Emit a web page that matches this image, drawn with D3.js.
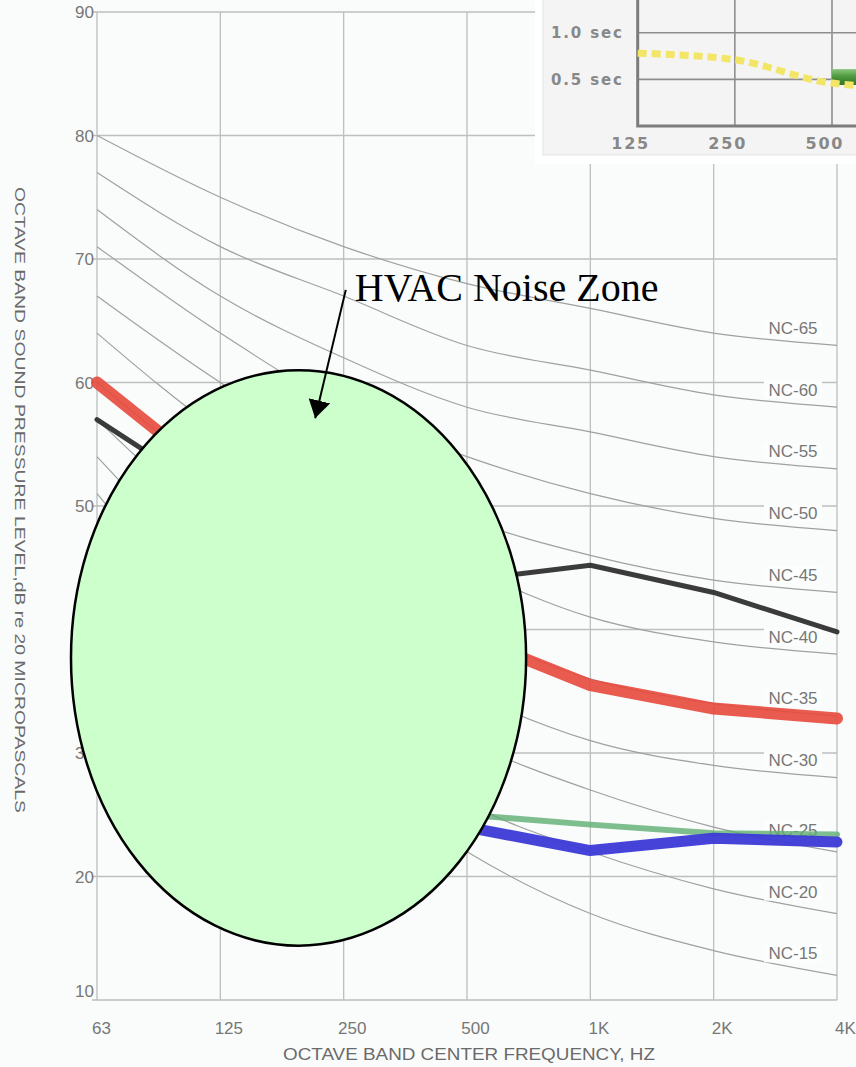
<!DOCTYPE html>
<html>
<head>
<meta charset="utf-8">
<script src="https://cdn.jsdelivr.net/npm/d3@7/dist/d3.min.js"></script>
<style>
  html, body { margin: 0; padding: 0; background: #fafcfc; }
  svg { display: block; }
</style>
</head>
<body>
<div id="chart"></div>
<script>
// NC CHART DATA

const freqs = [62.5, 125, 250, 500, 1000, 2000, 4000];
const freqLabels = ["63", "125", "250", "500", "1K", "2K", "4K"];
const dbTicks = [10, 20, 30, 40, 50, 60, 70, 80, 90];

const ncNames = ["NC-15", "NC-20", "NC-25", "NC-30", "NC-35", "NC-40", "NC-45", "NC-50", "NC-55", "NC-60", "NC-65"];
const nc15 = [47, 36, 29, 22, 17, 14, 12];
const nc20 = [51, 40, 33, 26, 22, 19, 17];
const nc25 = [54, 44, 37, 31, 27, 24, 22];
const nc30 = [57, 48, 41, 35, 31, 29, 28];
const nc35 = [60, 52, 45, 40, 36, 34, 33];
const nc40 = [64, 56, 50, 45, 41, 39, 38];
const nc45 = [67, 60, 54, 49, 46, 44, 43];
const nc50 = [71, 64, 58, 54, 51, 49, 48];
const nc55 = [74, 67, 62, 58, 56, 54, 53];
const nc60 = [77, 71, 67, 63, 61, 59, 58];
const nc65 = [80, 75, 71, 68, 66, 64, 63];

// measured spectra
const redLevels = [60, 52, 45, 39.5, 35.5, 33.6, 32.8];
const blackLevels = [57, 50.5, 46, 44, 45.2, 43, 39.8];
const greenLevels = [38, 33, 28, 25, 24.2, 23.5, 23.4];
const blueLevels = [36, 31, 26, 24, 22.1, 23.1, 22.8];

// reverberation time inset
const rtFreqs = [125, 250, 500, 1000];
const rtTicks = [0.5, 1.0];
const rtTickLabels = ["0.5 sec", "1.0 sec"];
const rtMeasured = [0.78, 0.71, 0.46, 0.4];
const rtTarget = [0.44, 0.61];

// annotation (data space)
const zoneFreqs = [54, 697];
const zoneDb = [14.4, 61];
const arrowFrom = [253, 67.5];
const arrowTo = [213, 57.1];
const noteText = "HVAC Noise Zone";


var width = 856,
height = 1067;

var svg = d3.select("#chart")
  .append("svg")
  .attr("width", width)
  .attr("height", height);

svg.append("rect")
  .attr("width", width)
  .attr("height", height)
  .attr("fill", "#fafcfc");

const x = d3.scaleLog().base(2)
  .domain([62.5, 4000])
  .range([97, 837]);

const y = d3.scaleLinear()
  .domain([10, 90])
  .range([1000, 12]);

const gridColor = "#bdbfbf";

// grid
svg.append("g")
  .selectAll("line")
  .data(dbTicks)
  .enter().append("line")
  .attr("x1", 92).attr("x2", x(4000))
  .attr("y1", d => y(d)).attr("y2", d => y(d))
  .attr("stroke", gridColor)
  .attr("stroke-width", 1.4);

svg.append("g")
  .selectAll("line")
  .data(freqs)
  .enter().append("line")
  .attr("x1", d => x(d)).attr("x2", d => x(d))
  .attr("y1", y(90)).attr("y2", y(10))
  .attr("stroke", gridColor)
  .attr("stroke-width", 1.3);

// axes (labels only)
const xAxis = svg.append("g")
  .attr("transform", `translate(0,${y(10)})`)
  .call(d3.axisBottom(x).tickValues(freqs).tickFormat((d, i) => freqLabels[i]).tickSize(0).tickPadding(22));
xAxis.select(".domain").remove();
xAxis.selectAll("text")
  .attr("dx", (d, i) => i === 0 ? 4 : 8)
  .style("font-family", "Liberation Sans, Arial, sans-serif")
  .style("font-size", "17px")
  .attr("fill", "#777");

const yAxis = svg.append("g")
  .attr("transform", `translate(94,0)`)
  .call(d3.axisLeft(y).tickValues(dbTicks).tickSize(0).tickPadding(0));
yAxis.select(".domain").remove();
yAxis.selectAll("text")
  .attr("dy", d => d === 10 ? "-0.18em" : "0.34em")
  .style("font-family", "Liberation Sans, Arial, sans-serif")
  .style("font-size", "17px")
  .attr("fill", "#777");

svg.append("text")
  .attr("x", (x(62.5) + x(4000)) / 2 + 2)
  .attr("y", 1060)
  .attr("text-anchor", "middle")
  .attr("textLength", 372)
  .attr("lengthAdjust", "spacingAndGlyphs")
  .style("font-family", "Liberation Sans, Arial, sans-serif")
  .style("font-size", "17px")
  .attr("fill", "#6a6a6a")
  .text("OCTAVE BAND CENTER FREQUENCY, HZ");

svg.append("text")
  .attr("transform", "translate(15,500) rotate(90)")
  .attr("text-anchor", "middle")
  .attr("textLength", 626)
  .attr("lengthAdjust", "spacingAndGlyphs")
  .style("font-family", "Liberation Sans, Arial, sans-serif")
  .style("font-size", "15px")
  .attr("fill", "#6a6a6a")
  .text("OCTAVE BAND SOUND PRESSURE LEVEL,dB re 20 MICROPASCALS");

// NC curves
const ncCurves = [nc15, nc20, nc25, nc30, nc35, nc40, nc45, nc50, nc55, nc60, nc65];

const ncLine = d3.line()
  .x((d, i) => x(freqs[i]))
  .y(d => y(d))
  .curve(d3.curveMonotoneX);

svg.append("g")
  .selectAll("path")
  .data(ncCurves)
  .enter().append("path")
  .attr("d", ncLine)
  .attr("fill", "none")
  .attr("stroke", "#9fa1a1")
  .attr("stroke-width", 1.2);

// NC labels with white backing
const labelG = svg.append("g");
ncCurves.forEach(function (c, k) {
  const t = 0.64;
  const v = c[5] + (c[6] - c[5]) * t;
  const lx = 793, ly = y(v) - 13;
  labelG.append("rect")
    .attr("x", lx - 29).attr("y", ly - 9)
    .attr("width", 58).attr("height", 18)
    .attr("fill", "#fcfdfd");
  labelG.append("text")
    .attr("x", lx).attr("y", ly)
    .attr("dy", "0.35em")
    .attr("text-anchor", "middle")
    .style("font-family", "Liberation Sans, Arial, sans-serif")
    .style("font-size", "17px")
    .attr("fill", "#777")
    .text(ncNames[k]);
});

// measured lines
const mLine = d3.line()
  .x((d, i) => x(freqs[i]))
  .y(d => y(d));

const series = [
  { v: greenLevels, c: "#5fae72", w: 6, o: 0.8 },
  { v: blueLevels, c: "#3c3ad6", w: 11, o: 0.95 },
  { v: redLevels, c: "#e8493c", w: 12, o: 0.9 },
  { v: blackLevels, c: "#2f302f", w: 5, o: 0.95 }
];

svg.append("g")
  .selectAll("path")
  .data(series)
  .enter().append("path")
  .attr("d", d => mLine(d.v))
  .attr("fill", "none")
  .attr("stroke", d => d.c)
  .attr("stroke-width", d => d.w)
  .attr("stroke-opacity", d => d.o)
  .attr("stroke-linejoin", "round")
  .attr("stroke-linecap", "round");

// noise zone ellipse
const ex0 = x(zoneFreqs[0]), ex1 = x(zoneFreqs[1]);
const ey0 = y(zoneDb[1]), ey1 = y(zoneDb[0]);
svg.append("ellipse")
  .attr("cx", (ex0 + ex1) / 2)
  .attr("cy", (ey0 + ey1) / 2)
  .attr("rx", (ex1 - ex0) / 2)
  .attr("ry", (ey1 - ey0) / 2)
  .attr("fill", "#ccffcc")
  .attr("stroke", "#000")
  .attr("stroke-width", 2.5);

// arrow + note
svg.append("defs").append("marker")
  .attr("id", "arrowHead")
  .attr("markerUnits", "userSpaceOnUse")
  .attr("markerWidth", 20).attr("markerHeight", 22)
  .attr("refX", 18).attr("refY", 11)
  .attr("orient", "auto")
  .append("path")
  .attr("d", "M0,0 L18,11 L0,22 Z")
  .attr("fill", "#000");

svg.append("line")
  .attr("x1", x(arrowFrom[0])).attr("y1", y(arrowFrom[1]))
  .attr("x2", x(arrowTo[0])).attr("y2", y(arrowTo[1]))
  .attr("stroke", "#000")
  .attr("stroke-width", 2)
  .attr("marker-end", "url(#arrowHead)");

svg.append("text")
  .attr("x", x(arrowFrom[0]) + 9)
  .attr("y", 301)
  .style("font-family", "Liberation Serif, Times New Roman, serif")
  .style("font-size", "40px")
  .attr("fill", "#000")
  .text(noteText);


// RT INSET

const inset = svg.append("g");

inset.append("rect")
  .attr("x", 535).attr("y", 0)
  .attr("width", 321).attr("height", 164)
  .attr("fill", "#ffffff");

inset.append("rect")
  .attr("x", 543).attr("y", -2)
  .attr("width", 320).attr("height", 157)
  .attr("fill", "#f4f4f4")
  .attr("stroke", "#e2e2e2");

const ix = d3.scaleLog().base(2)
  .domain([125, 500])
  .range([637.7, 832]);

const iy = d3.scaleLinear()
  .domain([0, 1])
  .range([126, 32.7]);

inset.append("g")
  .selectAll("line")
  .data(rtFreqs.slice(1))
  .enter().append("line")
  .attr("x1", d => ix(d)).attr("x2", d => ix(d))
  .attr("y1", 0).attr("y2", iy(0))
  .attr("stroke", "#8e8e8e")
  .attr("stroke-width", 1.6);

inset.append("g")
  .selectAll("line")
  .data(rtTicks)
  .enter().append("line")
  .attr("x1", ix(125)).attr("x2", width)
  .attr("y1", d => iy(d)).attr("y2", d => iy(d))
  .attr("stroke", "#8e8e8e")
  .attr("stroke-width", 1.6);

inset.append("path")
  .attr("d", `M${ix(125)},0 V${iy(0)} H${width}`)
  .attr("fill", "none")
  .attr("stroke", "#7c7c7c")
  .attr("stroke-width", 3);

inset.append("g")
  .selectAll("text")
  .data(rtTicks)
  .enter().append("text")
  .attr("x", 622)
  .attr("y", d => iy(d))
  .attr("dy", "0.36em")
  .attr("text-anchor", "end")
  .attr("textLength", 71)
  .attr("lengthAdjust", "spacing")
  .style("font-family", "DejaVu Sans, Verdana, sans-serif")
  .style("font-size", "15px")
  .style("font-weight", "bold")
  .attr("fill", "#888")
  .text((d, i) => rtTickLabels[i]);

inset.append("g")
  .selectAll("text")
  .data(rtFreqs.slice(0, 3))
  .enter().append("text")
  .attr("x", d => ix(d) - 8)
  .attr("y", 149)
  .attr("text-anchor", "middle")
  .attr("textLength", 37)
  .attr("lengthAdjust", "spacing")
  .style("font-family", "DejaVu Sans, Verdana, sans-serif")
  .style("font-size", "16px")
  .style("font-weight", "bold")
  .attr("fill", "#888")
  .text(d => d);

const grad = svg.select("defs").append("linearGradient")
  .attr("id", "greenBand")
  .attr("x1", 0).attr("y1", 0).attr("x2", 0).attr("y2", 1);
grad.append("stop").attr("offset", "0%").attr("stop-color", "#8cc77e");
grad.append("stop").attr("offset", "45%").attr("stop-color", "#4f9a3e");
grad.append("stop").attr("offset", "100%").attr("stop-color", "#2f7424");

inset.append("rect")
  .attr("x", ix(500))
  .attr("y", iy(rtTarget[1]))
  .attr("width", width - ix(500))
  .attr("height", iy(rtTarget[0]) - iy(rtTarget[1]))
  .attr("fill", "url(#greenBand)");

const rtLine = d3.line()
  .x((d, i) => ix(rtFreqs[i]))
  .y(d => iy(d))
  .curve(d3.curveMonotoneX);

inset.append("path")
  .attr("d", rtLine(rtMeasured))
  .attr("fill", "none")
  .attr("stroke", "#f3e566")
  .attr("stroke-width", 7)
  .attr("stroke-dasharray", "9,5");
</script>
</body>
</html>
